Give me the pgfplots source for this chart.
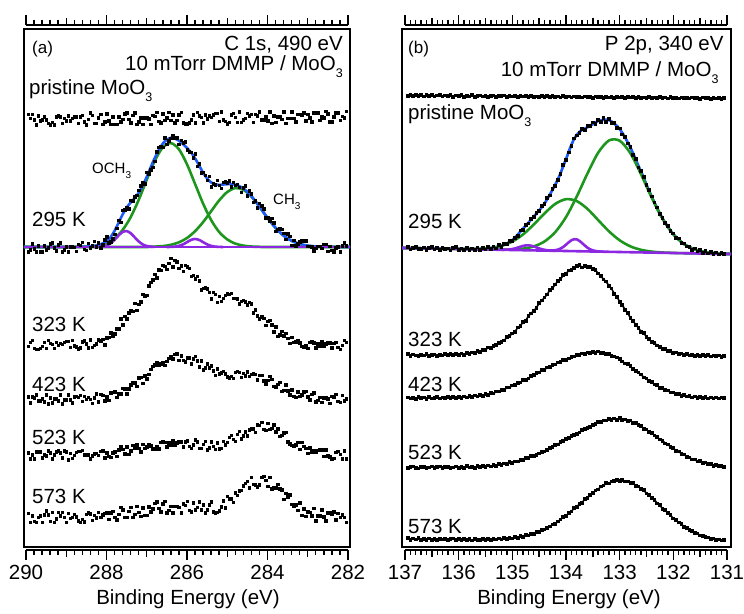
\documentclass[border=0pt]{standalone}
\usepackage{pgfplots}
\pgfplotsset{compat=1.18}
\usepackage{pgfplotstable}
\usepackage{fontspec}
\setmainfont{Liberation Sans}
\definecolor{fitblue}{RGB}{30,90,245}
\definecolor{fitgreen}{RGB}{30,150,30}
\definecolor{fitpurple}{RGB}{140,40,225}
\newcommand{\fs}[1]{\fontsize{#1}{#1}\selectfont}
\newcommand{\sub}[2]{\raisebox{#1}{\fs{#2}3}}

% C 1s spectra (y = vertical position in picture pixels, downward)
\pgfplotstableread{
E pr a b c d e
289.95 114.4 251.5 346 396.5 452.5 513.3
289.90 118.3 249.5 342 402.5 458.5 522.4
289.85 114.4 243.5 340 396.5 454.5 515.9
289.80 119.6 248.5 348 397.5 458.5 521.1
289.75 124.8 251.5 349 394.5 451.5 522.4
289.70 115.7 245.5 349 400.5 451.5 517.2
289.65 120.9 251.5 348 400.5 451.5 515.9
289.60 119.6 251.5 346 398.5 457.5 522.4
289.55 116.9 245.5 342 401.5 454.5 514.6
289.50 119.5 249.5 348 394.5 455.5 510.7
289.45 123.4 247.5 340 403.5 450.5 514.6
289.40 124.7 243.5 343 397.5 452.5 521.1
289.35 122.1 242.5 344 402.5 458.5 512.0
289.30 124.7 247.5 348 398.5 454.5 522.4
289.25 116.9 250.5 342 398.5 451.5 518.5
289.20 115.6 244.5 345 400.5 450.5 512.0
289.15 116.9 242.5 343 394.5 452.5 515.9
289.10 123.3 251.5 344 403.5 457.5 512.0
289.05 118.1 249.5 342 399.5 450.5 517.2
289.00 120.7 246.5 341 399.5 451.5 522.4
288.95 115.5 251.5 341 394.5 459.5 513.3
288.90 120.7 246.5 347 399.5 453.3 518.3
288.85 118.1 246.5 340 402.5 458.3 517.0
288.80 116.8 247.4 345.9 396.5 455.3 514.4
288.75 116.8 251.4 346.9 396.4 452.1 516.9
288.70 123.2 244.4 348.9 397.4 451.1 520.8
288.65 116.7 245.4 347.9 395.4 451.1 522.1
288.60 115.4 242.3 341.9 401.4 450.0 519.4
288.55 121.9 249.2 340.8 396.2 454.9 521.8
288.50 124.5 250.2 343.7 399.2 454.9 514.0
288.45 119.3 243.2 347.6 397.2 454.9 512.7
288.40 112.8 247.9 339.6 399.1 458.7 513.9
288.35 115.4 245.6 347.3 403.0 455.6 520.3
288.30 123.1 241.3 345.1 397.9 453.5 515.0
288.25 123.1 246.9 343.8 393.7 453.3 517.5
288.20 117.9 242.6 339.6 401.6 455.2 512.2
288.15 114.0 247.7 340.9 394.4 451.0 517.2
288.10 124.4 244.8 339.2 395.2 450.9 514.5
288.05 121.8 239.8 344.5 400.9 457.7 513.0
288.00 113.9 236.9 337.8 396.7 452.5 512.9
287.95 120.5 242.8 337.2 400.3 456.3 519.2
287.90 124.3 241.7 332.7 392.8 457.0 512.5
287.85 116.5 238.6 336.3 392.4 452.8 511.0
287.80 124.3 234.4 333.9 391.9 451.5 517.3
287.75 124.3 228.4 328.9 397.2 456.2 519.6
287.70 116.5 220.4 328.9 393.5 449.9 514.2
287.65 121.7 222.2 318.8 393.7 446.6 507.4
287.60 119.0 210.0 324.6 388.0 449.3 509.8
287.55 113.8 209.6 316.0 388.9 453.9 517.3
287.50 112.5 207.1 318.5 393.8 446.6 517.0
287.45 119.0 208.6 312.5 388.7 454.2 511.4
287.40 122.9 200.0 310.6 384.6 450.8 507.2
287.35 115.1 200.9 311.0 382.2 445.4 517.3
287.30 112.5 196.7 303.4 382.7 448.0 514.4
287.25 124.2 195.1 310.4 386.3 444.6 506.2
287.20 121.6 190.4 304.4 377.8 448.2 512.4
287.15 117.7 185.8 301.7 377.1 451.8 516.0
287.10 124.1 182.2 294.0 383.3 444.4 507.8
287.05 117.6 183.8 295.7 375.6 448.0 515.3
287.00 117.6 172.3 295.4 378.8 446.6 515.0
286.95 118.9 173.6 285.9 374.0 444.3 506.9
286.90 124.1 169.9 282.3 369.2 445.9 511.8
286.85 115.0 167.1 279.8 366.4 448.6 508.9
286.80 116.3 161.4 274.2 364.6 449.2 503.4
286.75 112.4 151.8 277.5 362.0 446.9 501.9
286.70 121.4 147.2 269.8 365.4 448.7 508.1
286.65 122.7 146.6 270.1 363.7 442.4 511.8
286.60 113.6 147.0 265.4 362.1 441.1 503.8
286.55 120.1 137.6 266.3 365.1 442.0 501.1
286.50 117.5 144.2 269.3 361.0 446.9 512.7
286.45 112.3 140.7 263.2 358.0 442.7 510.0
286.40 120.1 138.3 258.1 356.9 444.6 506.0
286.35 114.9 135.0 266.7 358.5 440.6 512.5
286.30 122.6 137.8 260.2 354.2 444.6 506.0
286.25 120.0 137.5 261.8 353.8 442.6 506.0
286.20 114.8 144.2 268.3 360.4 441.6 507.3
286.15 112.2 140.0 265.7 355.8 441.7 512.6
286.10 122.6 142.9 271.0 360.1 446.8 503.6
286.05 123.9 141.7 265.4 361.5 441.8 505.0
286.00 123.9 149.5 266.8 357.8 440.9 501.2
285.95 122.6 151.8 268.4 357.7 446.1 510.4
285.90 119.9 152.0 276.1 363.6 448.3 511.8
285.85 114.7 157.9 275.3 358.5 444.5 502.9
285.80 122.5 153.8 278.5 356.4 439.7 509.5
285.75 112.1 166.3 276.1 360.5 441.9 507.0
285.70 115.9 163.8 280.7 366.6 448.1 501.9
285.65 117.3 172.5 289.5 360.7 448.2 509.9
285.60 122.5 172.2 288.3 369.8 444.4 504.8
285.55 114.6 175.2 287.5 367.8 441.4 512.5
285.50 118.5 180.1 288.7 363.8 449.5 509.8
285.45 115.9 176.0 292.1 367.8 447.5 504.6
285.40 117.2 186.9 298.6 365.8 441.5 501.9
285.35 114.6 183.9 292.3 370.5 446.3 511.8
285.30 113.3 184.9 294.1 375.2 449.1 512.7
285.25 113.3 180.2 302.3 368.8 442.8 512.2
285.20 121.1 185.4 296.4 373.5 448.6 510.5
285.15 111.9 188.2 301.3 372.8 448.0 506.9
285.10 119.7 182.1 298.2 371.2 441.4 500.8
285.05 121.0 181.9 295.0 373.5 444.8 507.6
285.00 123.6 182.7 293.9 376.8 442.2 496.3
284.95 122.3 180.8 294.0 377.9 437.2 498.7
284.90 114.5 186.9 293.1 376.0 435.3 498.5
284.85 113.2 182.0 298.1 378.1 439.3 502.2
284.80 117.1 185.1 298.2 372.2 441.3 492.9
284.75 122.3 184.1 298.9 371.3 434.2 495.0
284.70 111.8 187.0 303.6 372.3 431.0 490.6
284.65 122.2 192.0 301.4 377.4 438.9 490.2
284.60 119.6 187.9 300.1 373.4 435.7 485.8
284.55 118.3 185.8 301.5 375.6 431.7 483.0
284.50 113.1 195.8 304.9 371.9 435.6 481.4
284.45 115.7 190.7 302.4 376.1 429.6 487.7
284.40 114.4 193.6 303.8 374.3 428.5 477.1
284.35 122.2 202.2 312.8 373.8 428.9 484.1
284.30 114.4 200.9 309.8 374.3 432.3 484.7
284.25 115.6 207.5 315.7 379.8 424.7 486.5
284.20 111.7 203.1 318.7 375.3 425.1 484.5
284.15 119.5 205.9 316.8 375.1 422.2 477.1
284.10 119.5 208.8 318.0 380.9 429.3 476.1
284.05 116.9 217.6 325.1 383.7 430.3 480.4
284.00 120.8 217.4 321.2 380.4 423.4 486.0
283.95 111.6 220.9 320.1 376.4 429.2 477.0
283.90 123.3 218.4 324.9 379.3 428.0 488.7
283.85 115.5 222.8 331.8 386.3 424.7 487.5
283.80 122.0 231.3 326.6 387.2 431.5 487.6
283.75 116.8 229.3 336.1 384.2 428.8 484.3
283.70 116.8 228.2 334.5 382.1 436.1 488.8
283.65 119.4 229.2 331.0 391.1 435.4 489.5
283.60 111.6 233.1 335.5 390.0 432.6 499.2
283.55 123.3 239.4 333.4 384.9 432.0 493.3
283.50 118.0 233.7 338.4 390.8 441.5 496.5
283.45 118.0 236.0 343.4 394.7 443.9 494.5
283.40 111.5 245.3 337.4 389.6 445.3 504.2
283.35 118.0 240.1 342.0 396.3 445.6 505.7
283.30 121.9 245.9 341.6 397.0 444.9 504.7
283.25 114.1 243.7 340.2 391.7 442.1 510.1
283.20 114.1 241.5 342.8 396.4 449.4 502.6
283.15 115.4 240.9 346.1 394.9 442.4 515.3
283.10 112.7 241.4 347.4 391.5 446.4 508.5
283.05 120.5 240.8 345.7 391.0 448.3 516.1
283.00 114.0 246.2 348.0 396.5 453.3 511.9
282.95 117.9 246.4 342.2 399.8 447.9 512.4
282.90 121.8 246.6 341.3 394.2 451.6 515.6
282.85 112.7 250.8 342.5 392.5 450.2 508.3
282.80 112.7 248.0 347.6 401.8 451.8 520.6
282.75 112.7 246.1 343.7 400.0 450.2 515.7
282.70 120.4 246.2 345.8 397.3 449.6 515.9
282.65 116.5 248.2 341.8 402.4 449.9 509.6
282.60 117.8 244.3 345.9 397.7 456.3 516.5
282.55 111.3 244.4 343.9 397.8 449.5 520.6
282.50 113.9 251.4 342.9 398.9 455.7 512.8
282.45 121.7 246.4 342.9 403.0 456.8 512.9
282.40 121.7 250.4 347.9 396.1 459.0 514.4
282.35 116.5 251.5 343.0 397.3 458.1 511.8
282.30 112.6 247.5 342.0 394.3 452.2 519.7
282.25 112.6 246.5 347.0 401.3 451.3 513.2
282.20 120.3 251.5 349.0 402.3 454.3 517.1
282.15 116.4 245.5 345.0 395.4 458.5 514.5
282.10 117.7 242.5 340.0 400.5 450.5 517.1
282.05 111.2 245.5 342.0 398.5 458.5 522.3
}\ctab

\pgfplotstableread{
E y
290.05 247
289.6 247
289.2 247
289.0 247.0
288.8 246.9
288.6 246.8
288.4 246.4
288.2 245.1
288.0 241.4
287.9 237.2
287.8 230.9
287.7 222.85
287.6 214.5
287.5 207.6
287.4 202.5
287.3 198.2
287.2 192.9
287.1 185.7
287.0 176.8
286.8 157.9
286.6 143.5
286.4 137.8
286.2 140.7
286.0 148.0
285.9 152.5
285.8 158.3
285.7 165.3
285.6 172.7
285.5 178.6
285.4 182.4
285.3 184.4
285.2 184.9
285.0 184.2
284.8 184.6
284.6 188.4
284.4 196.1
284.2 206.6
284.0 217.9
283.8 227.8
283.6 235.6
283.4 240.8
283.2 244.0
283.0 245.7
282.8 246.5
282.6 246.8
282.4 246.9
282.2 247
281.95 247
}\cblue

\pgfplotstableread{
E y
290.05 247
289.0 247
288.8 246.9
288.6 246.8
288.4 246.4
288.2 245.3
288.0 243.0
287.8 238.3
287.6 230.0
287.4 217.2
287.2 199.9
287.0 179.8
286.8 160.8
286.6 147.3
286.4 143.1
286.2 149.3
286.0 164.3
285.8 183.9
285.6 203.6
285.4 220.1
285.2 232.0
285.0 239.4
284.8 243.6
284.6 245.6
284.4 246.5
284.2 246.8
284.0 247
281.95 247
}\cgone

\pgfplotstableread{
E y
290.05 247
287.2 247
287.0 246.9
286.8 246.6
286.6 246.1
286.4 244.8
286.2 242.3
286.0 238.0
285.8 231.2
285.6 222.1
285.4 211.2
285.2 200.4
285.0 192.0
284.8 188.1
284.6 189.8
284.4 196.6
284.2 206.8
284.0 217.9
283.8 227.8
283.6 235.6
283.4 240.8
283.2 244.0
283.0 245.7
282.8 246.5
282.6 246.8
282.4 246.9
282.2 247
281.95 247
}\cgtwo

\pgfplotstableread{
E y
288.3 246.97
288.2 246.86
288.1 246.5
288.0 245.5
287.9 243.4
287.8 239.9
287.7 235.55
287.6 232.0
287.5 231.1
287.4 233.2
287.3 237.3
287.2 241.4
287.1 244.4
287.0 246.0
286.9 246.7
286.8 246.9
}\cpone

\pgfplotstableread{
E y
286.5 247.0
286.4 246.9
286.3 246.65
286.2 245.9
286.1 244.4
286.0 242.15
285.9 239.9
285.8 239.0
285.7 239.9
285.6 242.15
285.5 244.4
285.4 245.9
285.3 246.65
285.2 246.9
285.1 247.0
}\cptwo

% P 2p spectra
\pgfplotstableread{
E pr a b c d e
136.95 96.3 247.2 354.2 397.4 468.3 538.2
136.90 95.0 249.6 355.8 398.6 467.0 539.8
136.85 95.9 248.0 354.6 397.8 466.4 538.6
136.80 94.8 246.9 355.4 399.0 467.9 539.4
136.75 96.1 249.3 356.0 397.2 468.5 538.3
136.70 95.3 248.8 354.8 398.3 467.2 540.0
136.65 96.6 247.5 355.5 397.6 466.7 538.9
136.60 95.2 249.9 354.3 398.9 468.1 539.7
136.55 95.8 248.1 355.9 397.3 467.4 538.5
136.50 94.9 247.0 355.1 398.4 466.5 539.9
136.45 96.4 249.5 354.5 397.9 468.0 538.8
136.40 95.6 248.3 355.7 397.0 467.3 540.1
136.35 95.1 250.1 354.9 398.6 466.6 538.7
136.30 96.5 247.8 355.6 397.4 468.2 539.6
136.25 95.4 249.0 354.1 398.2 467.0 538.9
136.20 96.2 248.4 355.3 397.1 466.8 540.2
136.15 95.0 250.4 354.0 398.3 468.1 539.0
136.10 96.7 248.2 355.2 396.9 467.4 538.6
136.05 95.6 247.3 354.3 397.9 466.5 540.3
136.00 96.0 249.8 354.9 397.0 467.9 539.1
135.95 95.3 248.6 353.6 398.1 466.9 539.9
135.90 96.8 249.9 354.7 396.6 467.8 538.8
135.85 95.7 247.9 353.2 397.5 466.3 540.2
135.80 96.4 250.3 353.9 396.2 467.6 539.3
135.75 95.2 248.5 352.4 397.3 466.8 540.4
135.70 96.9 249.7 353.0 395.6 467.7 538.9
135.65 96.0 247.6 351.2 396.4 465.9 539.8
135.60 95.5 250.0 351.7 395.1 467.2 540.1
135.55 96.6 248.3 350.1 395.9 466.1 539.0
135.50 95.8 249.4 349.9 394.1 467.0 540.3
135.45 97.0 247.1 347.6 394.8 465.4 539.2
135.40 96.1 248.8 348.2 393.0 466.4 539.9
135.35 95.4 246.6 346.0 393.5 465.1 538.7
135.30 96.7 248.4 344.9 391.6 466.0 539.6
135.25 95.9 245.2 342.8 391.4 464.2 538.5
135.20 96.3 246.8 341.9 389.8 465.1 539.5
135.15 95.6 243.9 340.5 389.9 463.6 538.2
135.10 96.9 244.3 337.1 387.6 463.8 538.9
135.05 95.8 241.0 335.8 387.4 462.0 537.7
135.00 96.5 240.9 333.6 385.5 463.0 538.6
134.95 96.0 237.8 331.9 385.1 461.5 537.2
134.90 97.1 235.9 327.5 382.8 461.6 538.0
134.85 95.7 230.4 325.8 382.4 459.8 536.1
134.80 96.6 229.8 322.1 380.2 460.2 536.9
134.75 96.2 225.3 320.7 379.8 458.0 535.1
134.70 97.0 223.6 315.9 378.5 458.1 535.5
134.65 95.8 218.7 313.4 376.0 456.2 533.7
134.60 96.7 217.3 310.8 375.3 456.1 534.0
134.55 96.4 212.7 307.7 373.0 454.9 532.0
134.50 97.2 210.9 303.1 372.6 453.6 532.2
134.45 96.1 206.1 300.6 370.1 451.9 530.0
134.40 96.8 204.2 297.5 369.8 451.4 529.6
134.35 96.0 197.9 294.4 367.4 449.9 527.9
134.30 97.3 195.4 289.8 366.9 447.8 526.6
134.25 96.2 188.8 287.8 364.9 446.9 524.4
134.20 96.9 185.9 284.6 364.4 445.0 523.8
134.15 96.5 180.0 280.8 362.5 444.6 521.5
134.10 97.4 174.1 278.9 362.0 442.0 519.4
134.05 96.3 164.7 275.3 360.1 441.2 517.0
134.00 97.0 160.3 273.9 359.7 439.0 516.0
133.95 96.6 152.5 270.5 358.5 438.1 513.2
133.90 97.5 146.0 269.8 356.9 436.0 511.5
133.85 96.4 138.4 267.7 356.5 435.1 508.2
133.80 97.1 135.6 266.1 355.2 433.7 507.0
133.75 96.8 133.0 265.2 354.7 432.6 504.1
133.70 97.6 128.8 267.4 353.4 430.3 502.7
133.65 96.5 129.9 265.8 353.8 428.8 499.0
133.60 97.2 126.1 266.9 352.4 427.9 497.8
133.55 96.9 125.8 267.1 353.0 426.9 495.2
133.50 97.7 122.6 269.2 351.8 425.0 493.1
133.45 96.6 124.2 270.1 352.9 424.1 490.4
133.40 97.3 119.7 273.6 351.6 422.2 489.5
133.35 97.0 121.9 275.7 352.7 422.0 486.4
133.30 97.8 118.2 279.6 352.8 420.6 485.6
133.25 96.7 122.3 281.6 354.1 420.5 483.1
133.20 97.4 119.1 285.9 353.8 419.0 483.4
133.15 97.1 123.0 288.5 355.8 420.1 481.5
133.10 97.9 123.1 294.0 356.4 418.4 481.0
133.05 96.8 127.9 296.7 357.4 419.7 479.7
133.00 97.5 128.4 301.9 359.0 418.3 480.8
132.95 97.2 134.6 304.8 361.5 420.0 479.9
132.90 98.0 136.9 309.9 363.4 419.4 481.6
132.85 96.9 143.5 312.7 364.1 421.3 481.4
132.80 97.6 146.8 318.0 366.3 420.6 482.9
132.75 97.3 154.8 320.9 369.2 423.1 483.0
132.70 98.1 158.9 324.9 371.3 423.0 486.0
132.65 97.0 167.4 327.8 372.6 425.3 486.6
132.60 97.7 171.2 331.9 374.6 426.0 488.9
132.55 97.4 177.1 333.2 377.4 428.7 490.0
132.50 98.2 185.3 336.8 378.4 429.5 493.6
132.45 97.1 190.3 339.2 381.3 432.0 495.1
132.40 97.8 196.4 342.3 382.1 432.9 498.3
132.35 97.5 202.4 343.2 384.6 435.6 499.7
132.30 98.3 207.5 345.4 385.3 437.0 503.4
132.25 97.2 214.0 346.8 387.9 439.6 505.3
132.20 97.9 217.7 348.9 388.2 440.7 508.8
132.15 97.6 222.9 349.0 390.3 443.4 510.1
132.10 98.4 225.8 351.1 390.6 444.5 513.3
132.05 97.3 231.2 351.3 392.6 446.8 515.2
132.00 98.0 233.5 352.9 392.4 448.1 518.6
131.95 97.7 237.7 352.6 394.0 450.9 519.9
131.90 98.5 238.6 353.8 393.9 451.4 522.6
131.85 97.4 243.1 353.5 395.7 453.8 523.8
131.80 98.1 243.6 354.9 395.2 454.5 526.9
131.75 97.8 246.6 354.0 396.5 456.9 527.8
131.70 98.6 246.9 355.5 396.0 457.4 530.0
131.65 97.5 250.2 354.8 397.4 459.6 530.9
131.60 98.2 248.5 355.9 396.6 459.5 532.9
131.55 97.9 251.6 354.9 397.9 461.5 533.6
131.50 98.7 250.1 356.3 397.1 461.2 535.4
131.45 97.6 252.7 355.2 398.3 463.1 535.7
131.40 98.3 251.0 356.1 397.3 462.6 537.3
131.35 98.0 253.6 355.1 398.5 464.2 537.4
131.30 98.8 251.8 356.6 397.5 463.9 538.7
131.25 97.7 254.1 355.4 398.6 465.8 538.6
131.20 98.4 252.6 356.3 397.4 464.9 539.9
131.15 97.9 254.5 355.5 398.4 466.1 539.5
131.10 98.9 253.0 356.8 397.6 465.7 540.6
131.05 98.0 254.0 355.7 398.2 466.7 540.2
}\ptab

\pgfplotstableread{
E y
137.056 247.95
137.0 248.0
136.6 248.4
136.2 248.8
136.0 248.9
135.8 249.0
135.6 248.8
135.4 247.9
135.2 245.7
135.0 240.1
134.8 228.6
134.6 216.6
134.4 203.5
134.2 184.6
134.1 172.8
134.0 159.0
133.9 144.8
133.8 134.7
133.7 130.0
133.6 127.3
133.5 124.2
133.4 121.0
133.2 120.0
133.0 129.0
132.8 147.5
132.6 172.0
132.4 197.0
132.2 218.6
132.0 234.2
131.8 244.0
131.6 249.4
131.4 252.1
131.2 253.3
131.0 253.8
130.925 253.9
}\pblue

\pgfplotstableread{
E y
137.056 247.95
136.0 249.0
135.6 249.4
135.4 249.55
135.2 249.64
135.0 249.47
134.8 248.66
134.6 246.41
134.4 241.44
134.2 232.1
134.0 217.1
133.8 196.6
133.6 173.5
133.4 152.7
133.2 140.5
133.0 140.7
132.8 153.3
132.6 174.5
132.4 198.0
132.2 218.9
132.0 234.3
131.8 244.04
131.6 249.41
131.4 252.06
131.2 253.27
131.0 253.84
130.925 253.93
}\pgone

\pgfplotstableread{
E y
137.056 247.95
136.2 248.8
136.0 248.95
135.8 249.02
135.6 248.82
135.4 247.99
135.2 245.87
135.0 241.59
134.8 234.44
134.6 224.5
134.4 213.4
134.2 203.9
134.0 199.2
133.8 201.1
133.6 208.9
133.4 220.1
133.2 231.3
133.0 240.3
132.8 246.36
132.6 249.84
132.4 251.62
132.2 252.47
132.0 252.9
131.8 253.2
130.925 254.08
}\pgtwo

\pgfplotstableread{
E y
135.2 249.75
135.1 249.64
135.05 249.43
135.0 249.03
134.95 248.43
134.9 247.63
134.85 246.74
134.8 245.93
134.75 245.4
134.7 245.31
134.65 245.69
134.6 246.45
134.55 247.42
134.5 248.39
134.45 249.21
134.4 249.84
134.35 250.25
134.3 250.51
134.2 250.77
}\ppone

\pgfplotstableread{
E y
134.3 250.6
134.2 250.2
134.15 249.6
134.1 248.5
134.05 246.9
134.0 244.7
133.95 242.3
133.9 240.3
133.85 239.2
133.8 239.4
133.75 240.8
133.7 243.1
133.65 245.5
133.6 247.7
133.55 249.3
133.5 250.4
133.4 251.4
133.3 251.7
}\pptwo

\pgfplotsset{
  tickaxis/.style={scale only axis, axis x line=box, axis y line=none,
    ymin=0, ymax=1, x dir=reverse, tick align=outside,
    major tick length=10pt, minor tick length=5pt,
    axis line style={line width=1.4pt},
    tick style={black, line width=1.4pt},
    xtick pos=both,
    /pgf/number format/assume math mode=true,
    xticklabel style={font=\fs{20.5}, inner sep=0pt, yshift=-5pt},
    extra x tick labels={},
    extra x tick style={major tick length=7pt}},
  frameaxis/.style={scale only axis, y dir=reverse, x dir=reverse,
    ymin=29.3, ymax=546.7, xtick=\empty, ytick=\empty,
    axis line style={line width=2pt}},
  scat/.style={only marks, mark=square*, mark size=1.25pt, black},
  pline/.style={black, line width=1.6pt, mark=square*, mark size=1.05pt},
  fit/.style={smooth, line width=2.6pt},
}

\begin{document}
\begin{tikzpicture}
\path[use as bounding box] (0pt,0pt) rectangle (744pt,613pt);

% ---------- panel (a) ----------
\begin{axis}[tickaxis, at={(26pt,63pt)}, anchor=south west,
  width=322pt, height=525pt, xmin=282, xmax=290,
  xtick={282,284,...,290}, minor x tick num=9,
  extra x ticks={283,285,287,289}]
\end{axis}
\begin{axis}[frameaxis, at={(24pt,66.3pt)}, anchor=south west,
  width=326pt, height=517.4pt, xmin=281.9503, xmax=290.0497]
\addplot[scat] table[x=E,y=pr]{\ctab};
\addplot[scat] table[x=E,y=a]{\ctab};
\addplot[scat] table[x=E,y=b]{\ctab};
\addplot[scat] table[x=E,y=c]{\ctab};
\addplot[scat] table[x=E,y=d]{\ctab};
\addplot[scat] table[x=E,y=e]{\ctab};
\addplot[fit, fitgreen] table[x=E,y=y]{\cgone};
\addplot[fit, fitgreen] table[x=E,y=y]{\cgtwo};
\addplot[fit, fitblue] table[x=E,y=y]{\cblue};
\addplot[fit, fitpurple] table[x=E,y=y]{\cpone};
\addplot[fit, fitpurple] table[x=E,y=y]{\cptwo};
\addplot[fitpurple, line width=2.6pt] coordinates {(290.05,247) (281.95,247)};
\end{axis}

% ---------- panel (b) ----------
\begin{axis}[tickaxis, at={(405pt,63pt)}, anchor=south west,
  width=322pt, height=525pt, xmin=131, xmax=137,
  xtick={131,132,...,137}, minor x tick num=9,
  extra x ticks={131.5,132.5,133.5,134.5,135.5,136.5}]
\end{axis}
\begin{axis}[frameaxis, at={(402pt,66.3pt)}, anchor=south west,
  width=329pt, height=517.4pt, xmin=130.925, xmax=137.056]
\addplot[pline] table[x=E,y=pr]{\ptab};
\addplot[pline] table[x=E,y=a]{\ptab};
\addplot[pline] table[x=E,y=b]{\ptab};
\addplot[pline] table[x=E,y=c]{\ptab};
\addplot[pline] table[x=E,y=d]{\ptab};
\addplot[pline] table[x=E,y=e]{\ptab};
\addplot[fit, fitblue] table[x=E,y=y]{\pblue};
\addplot[fit, fitgreen] table[x=E,y=y]{\pgone};
\addplot[fit, fitgreen] table[x=E,y=y]{\pgtwo};
\addplot[fit, fitpurple] table[x=E,y=y]{\ppone};
\addplot[fit, fitpurple] table[x=E,y=y]{\pptwo};
\addplot[fitpurple, line width=2.6pt] coordinates {(137.056,247.95) (130.925,254.08)};
\end{axis}

% ---------- texts ----------
\begin{scope}[every node/.style={inner sep=0pt, font=\fs{20.5}}]
\node[anchor=base west, font=\fs{17}] at (32pt,559.7pt) {(a)};
\node[anchor=base east] at (343pt,562.3pt) {C 1s, 490 eV};
\node[anchor=base east] at (343pt,542pt) {10 mTorr DMMP / MoO\sub{-7pt}{12.5}};
\node[anchor=base west] at (29pt,518.7pt) {pristine MoO\sub{-7pt}{12.5}};
\node[anchor=base west, font=\fs{15}] at (92pt,439.7pt) {OCH\sub{-5pt}{10}};
\node[anchor=base west, font=\fs{15}] at (273pt,408pt) {CH\sub{-5pt}{10}};
\node[anchor=base west] at (32pt,386.3pt) {295 K};
\node[anchor=base west] at (32pt,281.3pt) {323 K};
\node[anchor=base west] at (32pt,221.3pt) {423 K};
\node[anchor=base west] at (32pt,168pt) {523 K};
\node[anchor=base west] at (32pt,109.7pt) {573 K};
\node[anchor=base] at (188pt,9pt) {Binding Energy (eV)};

\node[anchor=base west, font=\fs{17}] at (408pt,559.7pt) {(b)};
\node[anchor=base east] at (723.7pt,562.3pt) {P 2p, 340 eV};
\node[anchor=base east] at (718.7pt,536.3pt) {10 mTorr DMMP / MoO\sub{-7pt}{12.5}};
\node[anchor=base west] at (408pt,493pt) {pristine MoO\sub{-7pt}{12.5}};
\node[anchor=base west] at (408pt,384.7pt) {295 K};
\node[anchor=base west] at (408pt,266.3pt) {323 K};
\node[anchor=base west] at (408pt,221.3pt) {423 K};
\node[anchor=base west] at (408pt,153pt) {523 K};
\node[anchor=base west] at (408pt,79.7pt) {573 K};
\node[anchor=base] at (569pt,9pt) {Binding Energy (eV)};
\end{scope}
\end{tikzpicture}
\end{document}
